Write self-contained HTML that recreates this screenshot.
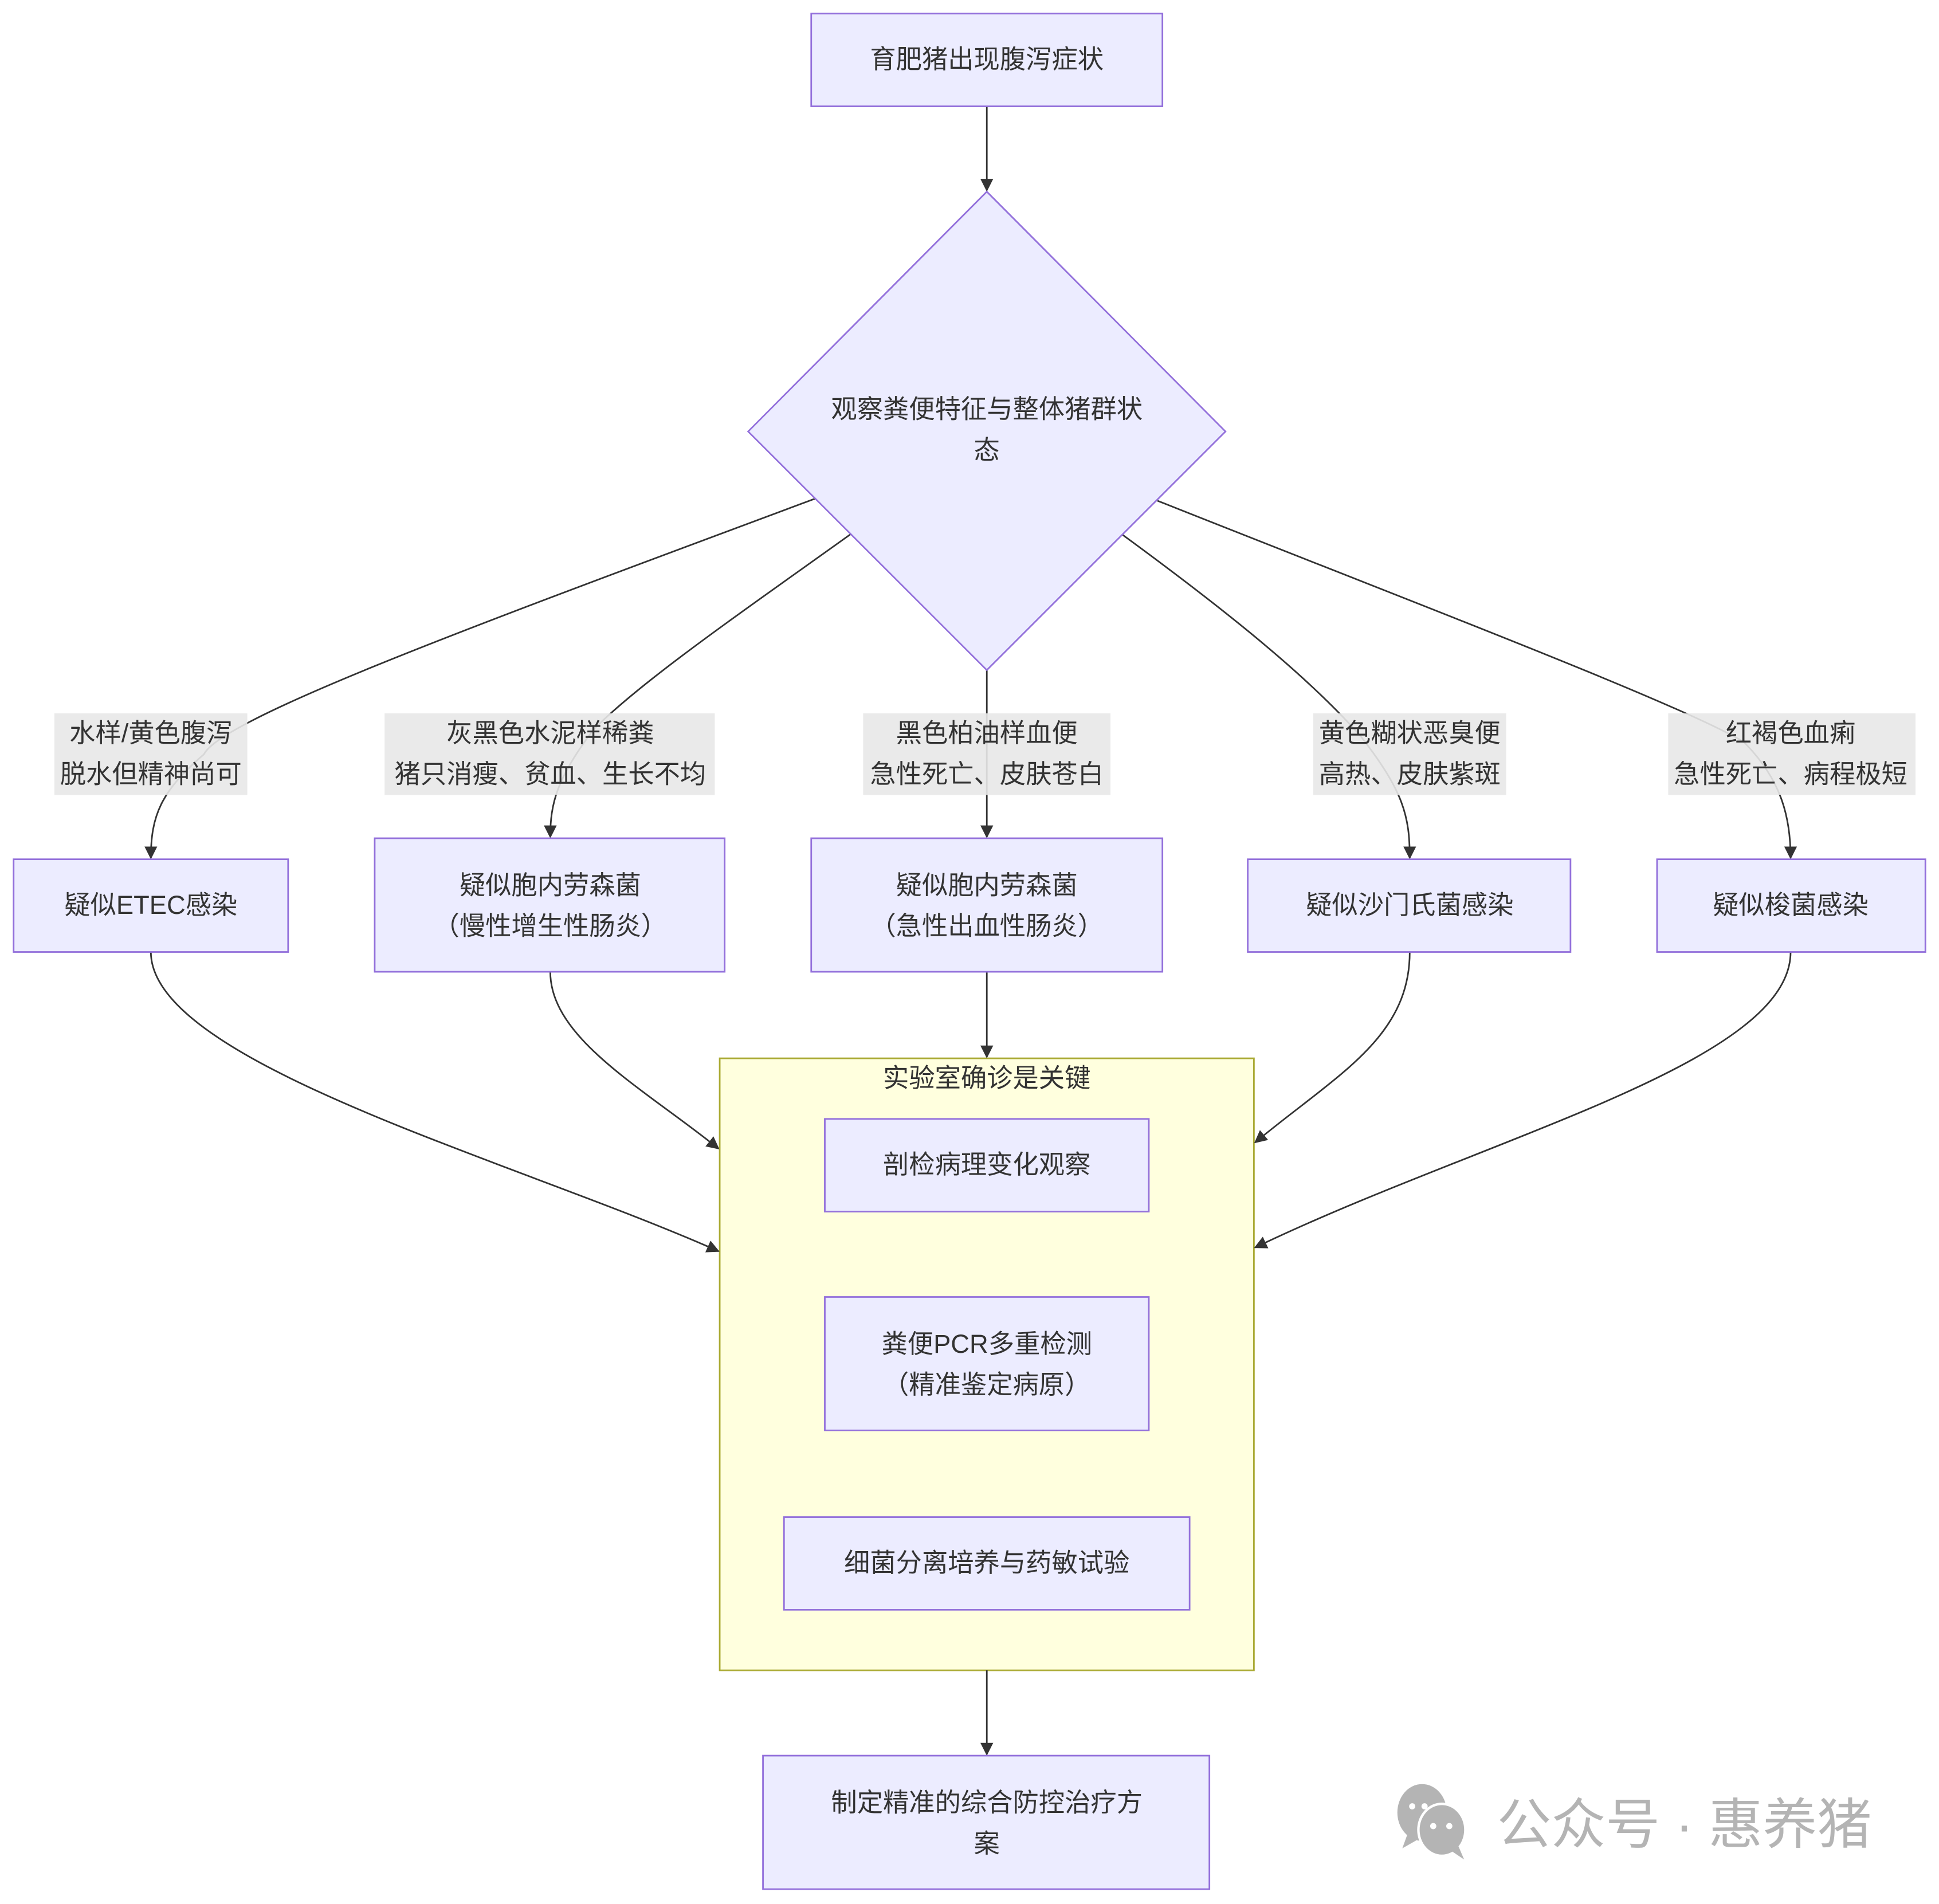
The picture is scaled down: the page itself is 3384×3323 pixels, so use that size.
<!DOCTYPE html>
<html><head><meta charset="utf-8"><style>
html,body{margin:0;padding:0;background:#fff;}
svg{display:block;}
text{font-family:"Liberation Sans","Noto Sans CJK SC",sans-serif;fill:#333;font-size:21px;text-anchor:middle;dominant-baseline:central;}
.n{fill:#ECECFF;stroke:#9370DB;stroke-width:1.3;}
.e{fill:none;stroke:#333;stroke-width:1.3;}
.lb{fill:#e8e8e8;opacity:0.9;}
</style></head><body>
<svg width="3384" height="3323" viewBox="0 0 1568 1540" preserveAspectRatio="none" xmlns="http://www.w3.org/2000/svg">
<defs><marker id="a" viewBox="0 0 10 10" refX="9" refY="5" markerWidth="8" markerHeight="8" orient="auto"><path d="M0,0L10,5L0,10z" fill="#333"/></marker></defs>
<rect x="582" y="856" width="432" height="495" fill="#ffffde" stroke="#aaaa33" stroke-width="1.3"/>
<text x="798" y="872">实验室确诊是关键</text>
<path class="e" d="M798,86 L798,154" marker-end="url(#a)"/>
<path class="e" d="M660,403 C400,500 180,580 165,610 C130,640 122,660 122,694" marker-end="url(#a)"/>
<path class="e" d="M688,432 C600,495 520,550 480,590 C450,630 445,650 445,677" marker-end="url(#a)"/>
<path class="e" d="M798,542 L798,677" marker-end="url(#a)"/>
<path class="e" d="M907,432 C1000,500 1060,550 1100,595 C1135,640 1140,660 1140,694" marker-end="url(#a)"/>
<path class="e" d="M936,405 C1150,490 1360,570 1410,600 C1440,630 1448,660 1448,694" marker-end="url(#a)"/>
<path class="e" d="M122,770 C122,860 420,940 581,1012" marker-end="url(#a)"/>
<path class="e" d="M445,786 C445,840 520,880 581,929" marker-end="url(#a)"/>
<path class="e" d="M798,786 L798,855" marker-end="url(#a)"/>
<path class="e" d="M1140,770 C1140,840 1080,870 1015,924" marker-end="url(#a)"/>
<path class="e" d="M1448,770 C1448,860 1200,920 1015,1009" marker-end="url(#a)"/>
<path class="e" d="M798,1351 L798,1419" marker-end="url(#a)"/>
<rect class="n" x="656" y="11" width="284" height="75"/><text x="798" y="48">育肥猪出现腹泻症状</text>
<polygon class="n" points="798,155 991,349 798,542 605,349"/>
<text x="798" y="331">观察粪便特征与整体猪群状</text><text x="798" y="364">态</text>
<rect class="lb" x="44" y="577" width="156" height="66"/><text x="122" y="593">水样/黄色腹泻</text><text x="122" y="626">脱水但精神尚可</text>
<rect class="lb" x="311" y="577" width="267" height="66"/><text x="445" y="593">灰黑色水泥样稀粪</text><text x="445" y="626">猪只消瘦、贫血、生长不均</text>
<rect class="lb" x="698" y="577" width="200" height="66"/><text x="798" y="593">黑色柏油样血便</text><text x="798" y="626">急性死亡、皮肤苍白</text>
<rect class="lb" x="1062" y="577" width="156" height="66"/><text x="1140" y="593">黄色糊状恶臭便</text><text x="1140" y="626">高热、皮肤紫斑</text>
<rect class="lb" x="1349" y="577" width="200" height="66"/><text x="1448" y="593">红褐色血痢</text><text x="1448" y="626">急性死亡、病程极短</text>
<rect class="n" x="11" y="695" width="222" height="75"/><text x="122" y="732">疑似ETEC感染</text>
<rect class="n" x="303" y="678" width="283" height="108"/><text x="445" y="716">疑似胞内劳森菌</text><text x="445" y="749">（慢性增生性肠炎）</text>
<rect class="n" x="656" y="678" width="284" height="108"/><text x="798" y="716">疑似胞内劳森菌</text><text x="798" y="749">（急性出血性肠炎）</text>
<rect class="n" x="1009" y="695" width="261" height="75"/><text x="1140" y="732">疑似沙门氏菌感染</text>
<rect class="n" x="1340" y="695" width="217" height="75"/><text x="1448" y="732">疑似梭菌感染</text>
<rect class="n" x="667" y="905" width="262" height="75"/><text x="798" y="942">剖检病理变化观察</text>
<rect class="n" x="667" y="1049" width="262" height="108"/><text x="798" y="1087">粪便PCR多重检测</text><text x="798" y="1120">（精准鉴定病原）</text>
<rect class="n" x="634" y="1227" width="328" height="75"/><text x="798" y="1264">细菌分离培养与药敏试验</text>
<rect class="n" x="617" y="1420" width="361" height="108"/><text x="798" y="1458">制定精准的综合防控治疗方</text><text x="798" y="1491">案</text>
<g fill="#b4b4b4">
<ellipse cx="1150" cy="1466" rx="20" ry="23"/><path d="M1138,1484 L1134,1495 L1148,1487z"/>
<ellipse cx="1166" cy="1480" rx="19" ry="21" stroke="#fff" stroke-width="2"/><path d="M1172,1496 L1184,1504 L1178,1490z"/>
</g>
<circle cx="1142" cy="1461" r="2.5" fill="#fff"/><circle cx="1152" cy="1461" r="2.5" fill="#fff"/>
<circle cx="1159" cy="1477" r="2.5" fill="#fff"/><circle cx="1172" cy="1477" r="2.5" fill="#fff"/>
<text x="1362" y="1476" style="font-size:44px;fill:#b4b4b4">公众号 · 惠养猪</text>
</svg>
</body></html>
